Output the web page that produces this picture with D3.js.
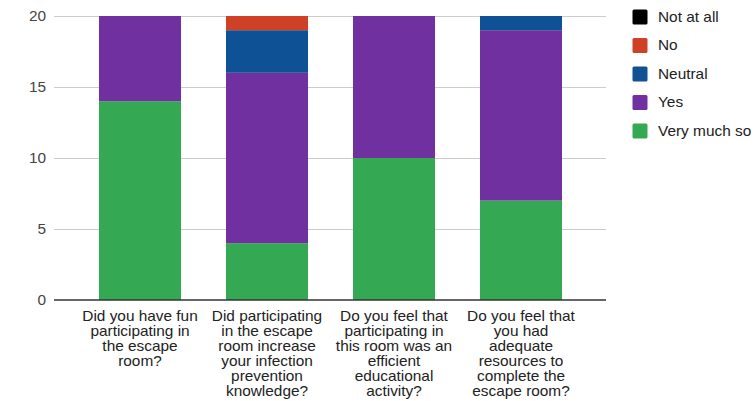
<!DOCTYPE html>
<html>
<head>
<meta charset="utf-8">
<script src="https://cdn.jsdelivr.net/npm/d3@7"></script>
<style>
  html, body { margin: 0; padding: 0; background: #fff; }
  svg { display: block; font-family: "Liberation Sans", Arial, sans-serif; }
</style>
</head>
<body>
<svg id="chart" width="756" height="401"></svg>
<script>
// Survey questions (x categories), each split into wrapped label lines
const questions = [
  ["Did you have fun", "participating in", "the escape", "room?"],
  ["Did participating", "in the escape", "room increase", "your infection", "prevention", "knowledge?"],
  ["Do you feel that", "participating in", "this room was an", "efficient", "educational", "activity?"],
  ["Do you feel that", "you had", "adequate", "resources to", "complete the", "escape room?"]
];

// Response options, bottom of the stack first
const responses = ["Very much so", "Yes", "Neutral", "No", "Not at all"];
const colors = ["#35a853", "#7030a0", "#0e5194", "#cf4126", "#000000"];

// Counts per response, one value per question
const veryMuchSo = [14, 4, 10, 7];
const yes        = [6, 12, 10, 12];
const neutral    = [0, 3, 0, 1];
const no         = [0, 1, 0, 0];
const notAtAll   = [0, 0, 0, 0];

const yTicks = [0, 5, 10, 15, 20];

const series = [veryMuchSo, yes, neutral, no, notAtAll];
const rows = questions.map((q, i) => {
  const r = { key: i };
  responses.forEach((name, s) => { r[name] = series[s][i]; });
  return r;
});

const svg = d3.select("#chart");
const plotLeft = 54, plotRight = 606;
const fontSize = 14, widen = 1.1;   // slightly wide lettering

const x = d3.scaleBand()
  .domain(questions.map((q, i) => i))
  .range([76.5, 584.5])
  .paddingInner(0.354)
  .paddingOuter(0.177);

const y = d3.scaleLinear().domain([0, 20]).range([300, 16]);

// horizontal gridlines
svg.append("g").selectAll("line")
  .data(yTicks.filter(t => t !== 0))
  .join("line")
  .attr("x1", plotLeft).attr("x2", plotRight)
  .attr("y1", d => Math.round(y(d)) + 0.5).attr("y2", d => Math.round(y(d)) + 0.5)
  .attr("stroke", "#cccccc").attr("stroke-width", 1);

// y tick labels
svg.append("g").selectAll("text")
  .data(yTicks)
  .join("text")
  .attr("transform", d => `translate(46,${y(d)}) scale(${widen},1)`)
  .attr("dy", "0.35em")
  .attr("text-anchor", "end")
  .attr("font-size", fontSize)
  .attr("fill", "#444")
  .text(d => d);

// stacked bars
const stack = d3.stack().keys(responses);
const layers = stack(rows);

svg.append("g").selectAll("g")
  .data(layers)
  .join("g")
  .attr("fill", (d, i) => colors[i])
  .selectAll("rect")
  .data(d => d.filter(p => p[1] - p[0] > 0))
  .join("rect")
  .attr("x", d => x(d.data.key))
  .attr("width", x.bandwidth())
  .attr("y", d => y(d[1]))
  .attr("height", d => y(d[0]) - y(d[1]));

// baseline
svg.append("line")
  .attr("x1", plotLeft).attr("x2", plotRight)
  .attr("y1", y(0)).attr("y2", y(0))
  .attr("stroke", "#333").attr("stroke-width", 1.5);

// category labels
const labels = svg.append("g").selectAll("text")
  .data(questions)
  .join("text")
  .attr("text-anchor", "middle")
  .attr("font-size", fontSize)
  .attr("fill", "#222")
  .attr("transform", (d, i) => `translate(${x(i) + x.bandwidth() / 2},321) scale(${widen},1)`);

labels.selectAll("tspan")
  .data(d => d)
  .join("tspan")
  .attr("x", 0)
  .attr("y", (d, i) => i * 15)
  .text(d => d);

// legend, top entry first
const legendOrder = responses.map((r, i) => i).reverse();
const legend = svg.append("g").selectAll("g")
  .data(legendOrder)
  .join("g")
  .attr("transform", (d, i) => `translate(632.5,${17 + i * 28.5})`);

legend.append("rect")
  .attr("x", 0).attr("y", -7.5)
  .attr("width", 15).attr("height", 15)
  .attr("rx", 1.5)
  .attr("fill", d => colors[d]);

legend.append("text")
  .attr("transform", `translate(25.5,0) scale(${widen},1)`)
  .attr("dy", "0.35em")
  .attr("font-size", fontSize)
  .attr("fill", "#222")
  .text(d => responses[d]);
</script>
</body>
</html>
